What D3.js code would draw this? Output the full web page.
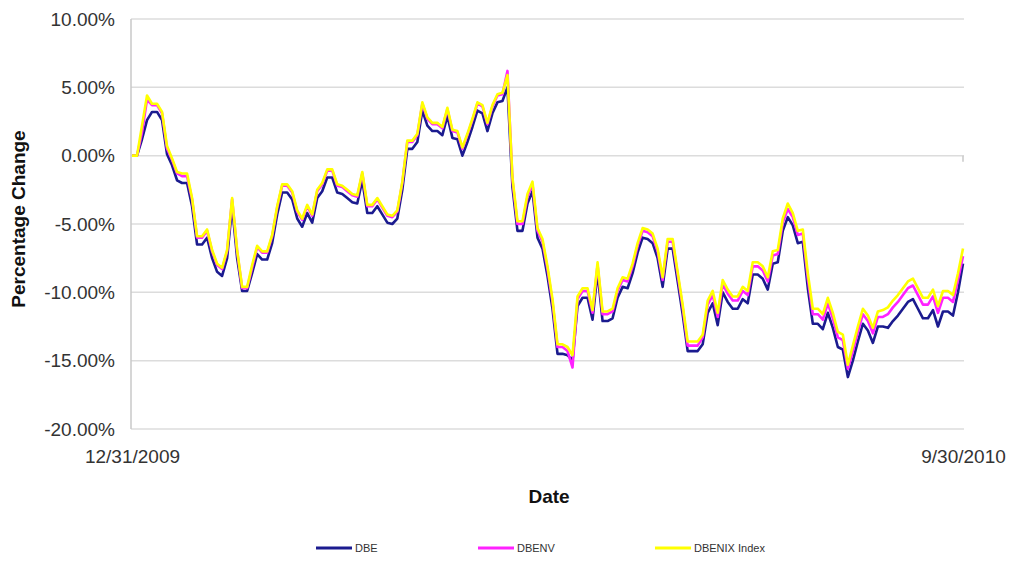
<!DOCTYPE html>
<html>
<head>
<meta charset="utf-8">
<script src="https://cdn.jsdelivr.net/npm/d3@7/dist/d3.min.js"></script>
<style>
  html, body { margin: 0; padding: 0; background: #fff; }
  svg { display: block; font-family: "Liberation Sans", Arial, sans-serif; }
</style>
</head>
<body>
<svg id="chart" width="1011" height="561"></svg>
<script>
// ---- data (percentage change) ----
const xLabels = ["12/31/2009", "9/30/2010"];
const yTicks = [-20, -15, -10, -5, 0, 5, 10];
const seriesNames = ["DBE", "DBENV", "DBENIX Index"];

const dbe = [
  0, 0, 1.2, 2.6, 3.2, 3.2, 2.6, 0.1, -0.7, -1.8, -2.0, -2.0,
  -3.7, -6.5, -6.5, -6.0, -7.5, -8.5, -8.8, -7.5, -3.7, -7.5, -9.9, -9.9,
  -8.6, -7.2, -7.6, -7.6, -6.4, -4.3, -2.7, -2.7, -3.2, -4.6, -5.2, -4.2,
  -4.9, -3.1, -2.6, -1.6, -1.6, -2.7, -2.8, -3.1, -3.4, -3.5, -1.8, -4.2,
  -4.2, -3.7, -4.3, -4.9, -5.0, -4.6, -2.5, 0.5, 0.5, 1.0, 3.3, 2.2,
  1.8, 1.8, 1.5, 2.9, 1.3, 1.2, 0.0, 1.0, 2.1, 3.3, 3.1, 1.8,
  3.1, 3.9, 4.0, 5.0, -2.3, -5.5, -5.5, -3.5, -2.6, -6.0, -6.8, -8.8,
  -11.2, -14.5, -14.5, -14.6, -15.0, -11.0, -10.4, -10.4, -12.0, -8.5, -12.1, -12.1,
  -11.9, -10.4, -9.6, -9.7, -8.6, -7.1, -6.0, -6.1, -6.4, -7.5, -9.6, -6.8,
  -6.8, -9.2, -11.6, -14.3, -14.3, -14.3, -13.8, -11.5, -10.8, -12.4, -10.0, -10.7,
  -11.2, -11.2, -10.5, -10.8, -8.7, -8.7, -9.0, -9.8, -7.9, -7.8, -5.5, -4.5,
  -5.1, -6.4, -6.3, -9.7, -12.3, -12.3, -12.7, -11.5, -12.6, -14.0, -14.2, -16.2,
  -15.0, -13.6, -12.3, -12.8, -13.7, -12.5, -12.5, -12.6, -12.1, -11.7, -11.2, -10.7,
  -10.5, -11.2, -11.9, -11.9, -11.3, -12.5, -11.4, -11.4, -11.7, -10.0, -7.9
];
const dbenv = [
  0, 0, 1.7, 4.1, 3.7, 3.7, 3.1, 0.5, -0.3, -1.3, -1.5, -1.5,
  -3.2, -6.0, -6.0, -5.5, -7.0, -8.0, -8.3, -7.0, -3.2, -7.0, -9.7, -9.7,
  -8.2, -6.7, -7.1, -7.1, -5.9, -3.8, -2.2, -2.2, -2.7, -4.1, -4.7, -3.7,
  -4.4, -2.6, -2.1, -1.1, -1.1, -2.2, -2.3, -2.6, -2.9, -3.0, -1.3, -3.7,
  -3.7, -3.2, -3.8, -4.4, -4.5, -4.1, -2.0, 1.0, 1.0, 1.5, 3.8, 2.7,
  2.3, 2.3, 2.0, 3.4, 1.8, 1.7, 0.5, 1.5, 2.6, 3.8, 3.6, 2.3,
  3.6, 4.4, 4.5, 6.2, -1.8, -5.0, -5.0, -3.0, -2.1, -5.5, -6.3, -8.3,
  -10.7, -14.0, -14.0, -14.3, -15.5, -10.5, -9.9, -9.9, -11.5, -8.0, -11.6, -11.6,
  -11.4, -9.9, -9.1, -9.2, -8.1, -6.6, -5.5, -5.6, -5.9, -7.0, -9.1, -6.3,
  -6.3, -8.7, -11.1, -13.9, -13.9, -13.9, -13.3, -10.9, -10.2, -11.8, -9.4, -10.1,
  -10.6, -10.6, -9.9, -10.2, -8.1, -8.1, -8.4, -9.2, -7.3, -7.2, -4.9, -3.9,
  -4.5, -5.8, -5.7, -9.0, -11.6, -11.6, -12.0, -10.8, -11.9, -13.3, -13.5, -15.6,
  -14.3, -12.9, -11.6, -12.1, -13.0, -11.8, -11.8, -11.6, -11.1, -10.7, -10.2, -9.7,
  -9.5, -10.2, -10.9, -10.9, -10.3, -11.5, -10.4, -10.4, -10.7, -9.1, -7.35
];
const dbenix = [
  0, 0, 2.2, 4.4, 3.8, 3.8, 3.2, 0.7, -0.2, -1.2, -1.3, -1.3,
  -3.1, -5.9, -5.9, -5.4, -6.9, -7.9, -8.2, -6.9, -3.1, -6.9, -9.6, -9.6,
  -8.0, -6.6, -7.0, -7.0, -5.8, -3.7, -2.1, -2.1, -2.6, -4.0, -4.6, -3.6,
  -4.3, -2.5, -2.0, -1.0, -1.0, -2.1, -2.2, -2.5, -2.8, -2.9, -1.2, -3.6,
  -3.6, -3.1, -3.7, -4.3, -4.4, -4.0, -1.9, 1.1, 1.1, 1.6, 3.9, 2.8,
  2.4, 2.4, 2.1, 3.5, 1.9, 1.8, 0.6, 1.6, 2.7, 3.9, 3.7, 2.4,
  3.7, 4.5, 4.6, 5.9, -1.6, -4.8, -4.8, -2.8, -1.9, -5.3, -6.1, -8.1,
  -10.5, -13.8, -13.8, -14.0, -14.6, -10.3, -9.7, -9.7, -11.3, -7.8, -11.4, -11.4,
  -11.2, -9.7, -8.9, -9.0, -7.9, -6.4, -5.3, -5.4, -5.7, -6.8, -8.9, -6.1,
  -6.1, -8.5, -10.9, -13.6, -13.6, -13.6, -13.1, -10.6, -9.9, -11.5, -9.1, -9.8,
  -10.3, -10.3, -9.6, -9.9, -7.8, -7.8, -8.1, -8.9, -7.0, -6.9, -4.6, -3.5,
  -4.2, -5.5, -5.4, -8.6, -11.2, -11.2, -11.6, -10.4, -11.5, -12.9, -13.1, -15.3,
  -13.9, -12.5, -11.2, -11.7, -12.6, -11.4, -11.3, -11.1, -10.6, -10.2, -9.7, -9.2,
  -9.0, -9.7, -10.4, -10.4, -9.8, -11.0, -9.9, -9.9, -10.2, -8.6, -6.8
];
const colors = ["#1b1b8f", "#ff22ff", "#ffff00"];

// ---- drawing ----
const svg = d3.select("#chart");
const N = dbe.length;
const x = d3.scaleLinear().domain([0, N - 1]).range([132, 963]);
const y = d3.scaleLinear().domain([-20, 10]).range([429, 19]);

// gridlines
svg.append("g")
  .selectAll("line")
  .data(yTicks)
  .join("line")
  .attr("x1", 131).attr("x2", 964)
  .attr("y1", d => y(d)).attr("y2", d => y(d))
  .attr("stroke", "#dcdcdc").attr("stroke-width", 1.5);

// left axis line
svg.append("line")
  .attr("x1", 131).attr("x2", 131)
  .attr("y1", y(10)).attr("y2", y(-20))
  .attr("stroke", "#c8c8c8").attr("stroke-width", 1.5);

// small tick at right end of zero line
svg.append("line")
  .attr("x1", x(N - 1)).attr("x2", x(N - 1))
  .attr("y1", y(0)).attr("y2", y(0) + 6)
  .attr("stroke", "#c8c8c8").attr("stroke-width", 1.5);

// y axis labels
const yAxis = d3.axisLeft(y).tickValues(yTicks).tickSize(0).tickPadding(16)
  .tickFormat(d => d.toFixed(2) + "%");
const gy = svg.append("g").attr("transform", "translate(131,0)").call(yAxis);
gy.select(".domain").remove();
gy.selectAll("text").attr("font-size", 19).attr("fill", "#333")
  .attr("font-family", "Liberation Sans, Arial, sans-serif");

// x axis labels
const xAxis = d3.axisBottom(x).tickValues([0, N - 1]).tickSize(0).tickPadding(21)
  .tickFormat((d, i) => xLabels[i]);
const gx = svg.append("g").attr("transform", `translate(0,${y(-20)})`).call(xAxis);
gx.select(".domain").remove();
gx.selectAll("text").attr("font-size", 19).attr("fill", "#333")
  .attr("font-family", "Liberation Sans, Arial, sans-serif");

// lines
const line = d3.line().x((d, i) => x(i)).y(d => y(d)).curve(d3.curveLinear);
[dbe, dbenv, dbenix].forEach((s, k) => {
  svg.append("path")
    .datum(s)
    .attr("d", line)
    .attr("fill", "none")
    .attr("stroke", colors[k])
    .attr("stroke-width", 2.6)
    .attr("stroke-linejoin", "round");
});

// axis titles
svg.append("text")
  .attr("x", 549).attr("y", 503)
  .attr("text-anchor", "middle")
  .attr("font-size", 19).attr("font-weight", "bold").attr("fill", "#111")
  .text("Date");
svg.append("text")
  .attr("transform", "translate(25,219) rotate(-90)")
  .attr("text-anchor", "middle")
  .attr("font-size", 19).attr("font-weight", "bold").attr("fill", "#111")
  .text("Percentage Change");

// legend
const legX = [316, 478, 655];
const leg = svg.append("g");
seriesNames.forEach((name, k) => {
  leg.append("line")
    .attr("x1", legX[k]).attr("x2", legX[k] + 36)
    .attr("y1", 548).attr("y2", 548)
    .attr("stroke", colors[k]).attr("stroke-width", 3);
  leg.append("text")
    .attr("x", legX[k] + 39).attr("y", 552)
    .attr("font-size", 11).attr("fill", "#333")
    .text(name);
});
</script>
</body>
</html>
